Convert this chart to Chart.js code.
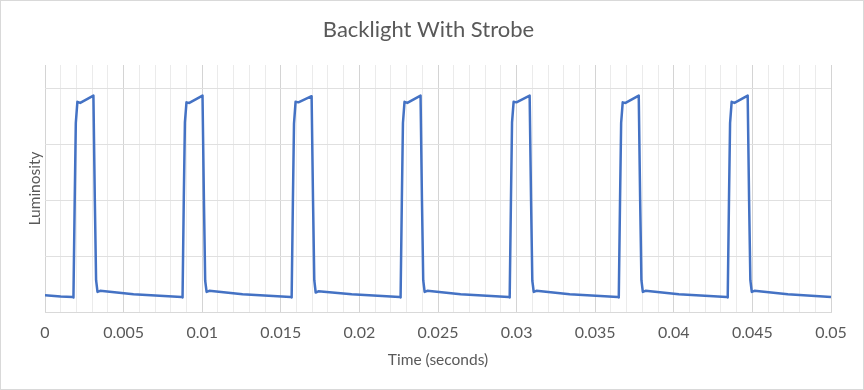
<!DOCTYPE html>
<html>
<head>
<meta charset="utf-8">
<script src="https://cdn.jsdelivr.net/npm/chart.js@4.4.1/dist/chart.umd.min.js"></script>
<style>
  html, body { margin: 0; padding: 0; background: #fff; }
  #frame { position: absolute; left: 0; top: 0; width: 864px; height: 390px; box-sizing: border-box; border: 1px solid #d9d9d9; }
  #wrap { position: absolute; left: 0; top: 0; width: 864px; height: 390px; }
</style>
</head>
<body>
<div id="frame"></div>
<div id="wrap"><canvas id="strobeChart" width="864" height="390"></canvas></div>
<script>
// measured samples, time in seconds
const timeSec = [
  0, 0.0010, 0.00175,
  0.00181, 0.00189, 0.00196, 0.00206, 0.00224, 0.00308, 0.00317, 0.00325, 0.00334, 0.00351, 0.00563,
  0.00868,
  0.00875, 0.00883, 0.00890, 0.00900, 0.00918, 0.01002, 0.01011, 0.01019, 0.01028, 0.01045, 0.01257,
  0.01562,
  0.01569, 0.01577, 0.01584, 0.01594, 0.01612, 0.01696, 0.01705, 0.01713, 0.01722, 0.01739, 0.01951,
  0.02255,
  0.02262, 0.02270, 0.02277, 0.02287, 0.02305, 0.02389, 0.02398, 0.02406, 0.02415, 0.02432, 0.02644,
  0.02949,
  0.02956, 0.02964, 0.02971, 0.02981, 0.02999, 0.03083, 0.03092, 0.03100, 0.03109, 0.03126, 0.03338,
  0.03643,
  0.03650, 0.03658, 0.03665, 0.03675, 0.03693, 0.03777, 0.03786, 0.03794, 0.03803, 0.03820, 0.04032,
  0.04336,
  0.04343, 0.04351, 0.04358, 0.04368, 0.04386, 0.04470, 0.04479, 0.04487, 0.04496, 0.04513, 0.04725,
  0.0500
];
const luminosity = [
  0.30, 0.28, 0.27,
  0.26, 2.00, 3.39, 3.77, 3.75, 3.88, 2.00, 0.57, 0.36, 0.38, 0.32,
  0.27,
  0.26, 2.05, 3.40, 3.76, 3.75, 3.88, 2.00, 0.56, 0.36, 0.38, 0.32,
  0.27,
  0.26, 2.00, 3.38, 3.77, 3.76, 3.87, 2.00, 0.57, 0.35, 0.37, 0.32,
  0.27,
  0.26, 2.00, 3.39, 3.77, 3.75, 3.88, 2.00, 0.57, 0.36, 0.38, 0.32,
  0.27,
  0.26, 2.00, 3.40, 3.77, 3.76, 3.88, 2.00, 0.56, 0.36, 0.38, 0.32,
  0.27,
  0.26, 2.00, 3.39, 3.76, 3.75, 3.88, 2.00, 0.57, 0.36, 0.38, 0.32,
  0.27,
  0.26, 2.00, 3.39, 3.77, 3.75, 3.88, 2.00, 0.57, 0.36, 0.38, 0.32,
  0.27
];
const xTicks = [0, 0.005, 0.01, 0.015, 0.02, 0.025, 0.03, 0.035, 0.04, 0.045, 0.05];

const textColor = "#595959";
const fontFamily = "Lato, 'Open Sans', sans-serif";

function isMajor(v) {
  return Math.round(v * 1000) % 5 === 0;
}

const ctx = document.getElementById("strobeChart").getContext("2d");
new Chart(ctx, {
  type: "scatter",
  data: {
    datasets: [{
      label: "Luminosity",
      data: timeSec.map((t, i) => ({ x: t, y: luminosity[i] })),
      showLine: true,
      borderColor: "#4472c4",
      borderWidth: 2.5,
      borderJoinStyle: "round",
      pointRadius: 0,
      tension: 0,
      fill: false,
    }],
  },
  options: {
    responsive: false,
    animation: false,
    layout: { padding: { left: 26, right: 33, top: 0, bottom: 10 } },
    plugins: {
      legend: { display: false },
      tooltip: { enabled: false },
      title: {
        display: true,
        text: "Backlight With Strobe",
        color: textColor,
        font: { family: fontFamily, size: 22, weight: "normal" },
        padding: { top: 17, bottom: 21.6 },
      },
    },
    scales: {
      x: {
        type: "linear",
        min: xTicks[0],
        max: xTicks[xTicks.length - 1],
        afterFit: (scale) => { scale.height = 68; },
        ticks: {
          stepSize: 0.001,
          autoSkip: false,
          maxRotation: 0,
          padding: 11,
          color: textColor,
          font: { family: fontFamily, size: 16 },
          callback: (v) => {
            if (!isMajor(v)) return "";
            const r = Math.round(v * 1000) / 1000;
            return xTicks.includes(r) ? String(r) : "";
          },
        },
        grid: {
          drawTicks: false,
          color: (c) => (isMajor(c.tick.value) ? "#d4d4d4" : "#ebebeb"),
          lineWidth: 1,
        },
        border: { display: true, color: "#d9d9d9" },
        title: {
          display: true,
          text: "Time (seconds)",
          color: textColor,
          font: { family: fontFamily, size: 15.5 },
          padding: { top: 4, bottom: 11 },
        },
      },
      y: {
        min: 0,
        max: 4.43,
        afterFit: (scale) => { scale.width = 19; },
        ticks: { display: false, stepSize: 1 },
        grid: {
          drawTicks: false,
          color: (c) => (Number.isInteger(c.tick.value) ? "#e0e0e0" : "rgba(0,0,0,0)"),
        },
        border: { display: false },
        title: {
          display: true,
          text: "Luminosity",
          color: textColor,
          font: { family: fontFamily, size: 15.5 },
          padding: { top: 0, bottom: 0 },
        },
      },
    },
  },
});
</script>
</body>
</html>
